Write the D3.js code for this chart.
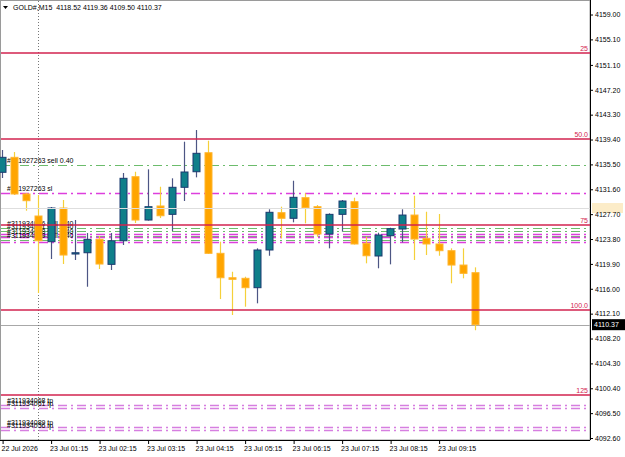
<!DOCTYPE html>
<html><head><meta charset="utf-8">
<script src="https://cdn.jsdelivr.net/npm/d3@7"></script>
<style>html,body{margin:0;padding:0;background:#fff;overflow:hidden}svg{display:block}</style>
</head><body>
<script>
// ---- data ----
const times = ["22 Jul 23:15","22 Jul 23:30","22 Jul 23:45","23 Jul 01:00","23 Jul 01:15","23 Jul 01:30","23 Jul 01:45","23 Jul 02:00",
"23 Jul 02:15","23 Jul 02:30","23 Jul 02:45","23 Jul 03:00","23 Jul 03:15","23 Jul 03:30","23 Jul 03:45","23 Jul 04:00",
"23 Jul 04:15","23 Jul 04:30","23 Jul 04:45","23 Jul 05:00","23 Jul 05:15","23 Jul 05:30","23 Jul 05:45","23 Jul 06:00",
"23 Jul 06:15","23 Jul 06:30","23 Jul 06:45","23 Jul 07:00","23 Jul 07:15","23 Jul 07:30","23 Jul 07:45","23 Jul 08:00",
"23 Jul 08:15","23 Jul 08:30","23 Jul 08:45","23 Jul 09:00","23 Jul 09:15","23 Jul 09:30","23 Jul 09:45","23 Jul 10:00"];
const opens  = [4134.26,4136.61,4130.86,4127.41,4123.38,4128.66,4121.45,4121.65,4123.75,4119.83,4123.53,4133.57,4126.78,4128.98,4127.67,4131.91,
                4134.35,4137.33,4121.56,4117.73,4117.64,4116.17,4122.08,4127.93,4127.05,4130.28,4128.87,4124.59,4127.67,4129.65,4123.13,4121.14,
                4124.32,4125.37,4127.56,4123.91,4123.02,4121.97,4119.72,4118.52];
const highs  = [4137.76,4137.44,4131.01,4130.70,4128.82,4129.92,4126.78,4124.74,4124.27,4124.74,4134.15,4134.35,4134.73,4132.00,4133.32,4139.06,
                4140.89,4139.21,4123.38,4118.67,4117.89,4122.34,4128.46,4128.87,4132.94,4130.97,4129.13,4127.83,4129.92,4130.28,4124.16,4124.79,
                4125.57,4128.46,4130.59,4128.08,4127.72,4122.34,4122.34,4119.36];
const lows   = [4133.37,4130.70,4128.24,4115.33,4120.67,4119.88,4120.51,4116.32,4119.10,4118.94,4122.86,4126.31,4126.70,4127.09,4125.06,4129.76,
                4133.47,4121.45,4114.39,4111.89,4113.19,4113.72,4121.18,4123.91,4126.42,4126.26,4124.16,4122.34,4124.95,4122.94,4119.99,4119.21,
                4119.83,4123.28,4120.51,4121.29,4121.18,4116.86,4117.64,4109.50];
const closes = [4136.61,4130.86,4129.81,4123.53,4128.66,4121.29,4121.65,4123.75,4119.88,4123.53,4133.32,4126.78,4128.87,4127.45,4131.91,4134.31,
                4137.24,4121.56,4117.73,4117.48,4116.17,4122.08,4127.99,4127.05,4130.34,4128.71,4124.59,4127.67,4129.76,4123.02,4121.18,4124.43,
                4125.42,4127.56,4123.80,4123.02,4121.97,4119.72,4118.42,4110.37];

const priceTicks = [4159.00,4155.10,4151.10,4147.20,4143.30,4139.40,4135.50,4131.60,4127.70,4123.80,4119.90,4116.00,4112.10,4108.20,4104.30,4100.40,4096.50,4092.60];
const timeTickIdx = [0,4,8,12,16,20,24,28,32,36];
const timeTickLabels = ["22 Jul 2026","23 Jul 01:15","23 Jul 02:15","23 Jul 03:15","23 Jul 04:15","23 Jul 05:15","23 Jul 06:15","23 Jul 07:15","23 Jul 08:15","23 Jul 09:15"];

const fibPrices = [4152.96,4139.48,4126.00,4112.67,4099.34];
const fibLabels = ["25","50.0","75","100.0","125"];

const entryPrices = [4135.40,4125.53,4125.06,4124.35,4123.72];
const entryLabels = ["#311927263 sell 0.40","#311934056 sell 0.40","#311934061 sell 0.40","#311934068 sell 0.40","#311934089 sell 0.40"];
const slPrices = [4131.01,4124.66,4124.04,4123.41];
const slLabels = ["#311927263 sl","","",""];
const tpPrices = [4097.77,4097.30,4094.25,4093.85];
const tpLabels = ["#311934068 tp","#311934061 tp","#311934089 tp","#311934056 tp"];

const bidPrice = 4110.37;
const alertPrice = 4128.66;
const separatorIdx = 3;
const header = "GOLD#,M15  4118.52 4119.36 4109.50 4110.37";

// ---- layout ----
const W = 625, H = 457;
const plotR = 590, plotB = 440;
const FONT = "'Liberation Sans', Arial, sans-serif";
const FS = 7;

const svg = d3.select("body").append("svg").attr("width", W).attr("height", H)
  .style("font-family", FONT);

const x = d3.scaleLinear().domain([0, 39]).range([2.1, 475]);
const y = d3.scaleLinear().domain([4092.29, 4161.12]).range([plotB, 1]);

// frame
svg.append("rect").attr("x", 0.5).attr("y", 0.5).attr("width", plotR - 0.5).attr("height", plotB - 0.5)
  .attr("fill", "#fff").attr("stroke", "#9a9a9a");

const dash = "9,4,2,4";
const gOrders = svg.append("g");
gOrders.selectAll("line.e").data(entryPrices).join("line")
  .attr("x1", 1).attr("x2", plotR).attr("y1", d => Math.round(y(d)) + 0.5).attr("y2", d => Math.round(y(d)) + 0.5)
  .attr("stroke", "#6cbc6c").attr("stroke-dasharray", dash);
gOrders.selectAll("line.s").data(slPrices).join("line")
  .attr("x1", 1).attr("x2", plotR).attr("y1", d => Math.round(y(d)) + 0.5).attr("y2", d => Math.round(y(d)) + 0.5)
  .attr("stroke", "#dd3fdd").attr("stroke-width", 1.3).attr("stroke-dasharray", dash);
gOrders.selectAll("line.t").data(tpPrices).join("line")
  .attr("x1", 1).attr("x2", plotR).attr("y1", d => Math.round(y(d)) + 0.5).attr("y2", d => Math.round(y(d)) + 0.5)
  .attr("stroke", "#d67ee0").attr("stroke-width", 1.3).attr("stroke-dasharray", dash);

const lab = (arr, prices) => gOrders.append("g").selectAll("text").data(arr.map((t, i) => ({t, p: prices[i]})).filter(d => d.t))
  .join("text").attr("x", 7).attr("y", d => y(d.p) - 2).attr("font-size", FS).attr("fill", "#000").text(d => d.t);
lab(entryLabels, entryPrices);
lab(slLabels, slPrices);
lab(tpLabels, tpPrices);

// bid line
svg.append("line").attr("x1", 1).attr("x2", plotR).attr("y1", Math.round(y(bidPrice)) + 0.5).attr("y2", Math.round(y(bidPrice)) + 0.5)
  .attr("stroke", "#a8a8a8");

// period separator
svg.append("line").attr("x1", Math.round(x(separatorIdx)) + 0.5).attr("x2", Math.round(x(separatorIdx)) + 0.5)
  .attr("y1", 1).attr("y2", plotB).attr("stroke", "#777").attr("stroke-dasharray", "1,2");

// candles
const candles = d3.range(times.length).map(i => ({i, o: opens[i], h: highs[i], l: lows[i], c: closes[i]}));
const gC = svg.append("g");
gC.selectAll("line").data(candles).join("line")
  .attr("x1", d => Math.round(x(d.i)) + 0.5).attr("x2", d => Math.round(x(d.i)) + 0.5)
  .attr("y1", d => y(d.h)).attr("y2", d => y(d.l))
  .attr("stroke", d => d.c >= d.o ? "#4d5684" : "#f5d03a").attr("stroke-width", 1.2);
gC.selectAll("rect").data(candles).join("rect")
  .attr("x", d => Math.round(x(d.i)) - 3)
  .attr("y", d => y(Math.max(d.o, d.c)))
  .attr("width", 7)
  .attr("height", d => Math.max(1, Math.abs(y(d.o) - y(d.c))))
  .attr("fill", d => d.c >= d.o ? "#0f7f8a" : "#ffa500")
  .attr("stroke", d => d.c >= d.o ? "#1b3a70" : "#ffb52e").attr("stroke-width", 1);

// alert light line
svg.append("line").attr("x1", 1).attr("x2", plotR).attr("y1", Math.round(y(alertPrice)) + 0.5).attr("y2", Math.round(y(alertPrice)) + 0.5)
  .attr("stroke", "#dedede");
svg.append("rect").attr("x", plotR + 2).attr("y", y(alertPrice) - 5).attr("width", 31).attr("height", 10).attr("fill", "#fcecc8");

// fib lines
const gF = svg.append("g");
gF.selectAll("line").data(fibPrices).join("line")
  .attr("x1", 1).attr("x2", plotR).attr("y1", d => y(d)).attr("y2", d => y(d))
  .attr("stroke", "#d2234f").attr("stroke-width", 1.6);
gF.selectAll("text").data(fibPrices).join("text")
  .attr("x", plotR - 2).attr("y", d => y(d) - 2).attr("text-anchor", "end")
  .attr("font-size", FS).attr("fill", "#d2234f").text((d, i) => fibLabels[i]);

// axes
const yAxis = d3.axisRight(y).tickValues(priceTicks).tickFormat(d3.format(".2f")).tickSize(3).tickPadding(2);
const gy = svg.append("g").attr("transform", `translate(${plotR},0)`).call(yAxis);
gy.select(".domain").attr("d", `M0.5,0V${plotB}`).attr("stroke", "#000");
gy.selectAll("text").attr("font-size", FS).attr("font-family", FONT).attr("fill", "#000");

const xAxis = d3.axisBottom(x).tickValues(timeTickIdx).tickFormat((d, i) => timeTickLabels[i]).tickSize(4).tickPadding(2);
const gx = svg.append("g").attr("transform", `translate(0,${plotB})`).call(xAxis);
gx.select(".domain").attr("d", `M0,0.5H${plotR}`).attr("stroke", "#000");
gx.selectAll("text").attr("font-size", FS).attr("font-family", FONT).attr("fill", "#000").attr("text-anchor", "start").attr("dx", -1);
gx.selectAll(".tick line").attr("transform", "translate(0.5,0)");

// bid label
svg.append("rect").attr("x", plotR + 2).attr("y", y(bidPrice) - 5.5).attr("width", 33).attr("height", 11).attr("fill", "#000");
svg.append("text").attr("x", plotR + 4).attr("y", y(bidPrice) + 2.5).attr("font-size", FS).attr("fill", "#fff").text(d3.format(".2f")(bidPrice));

// header
svg.append("path").attr("d", "M3,6 L8,6 L5.5,9 Z").attr("fill", "#000");
svg.append("text").attr("x", 13).attr("y", 10).attr("font-size", FS).attr("fill", "#000").style("white-space", "pre").text(header);
</script>
</body></html>
